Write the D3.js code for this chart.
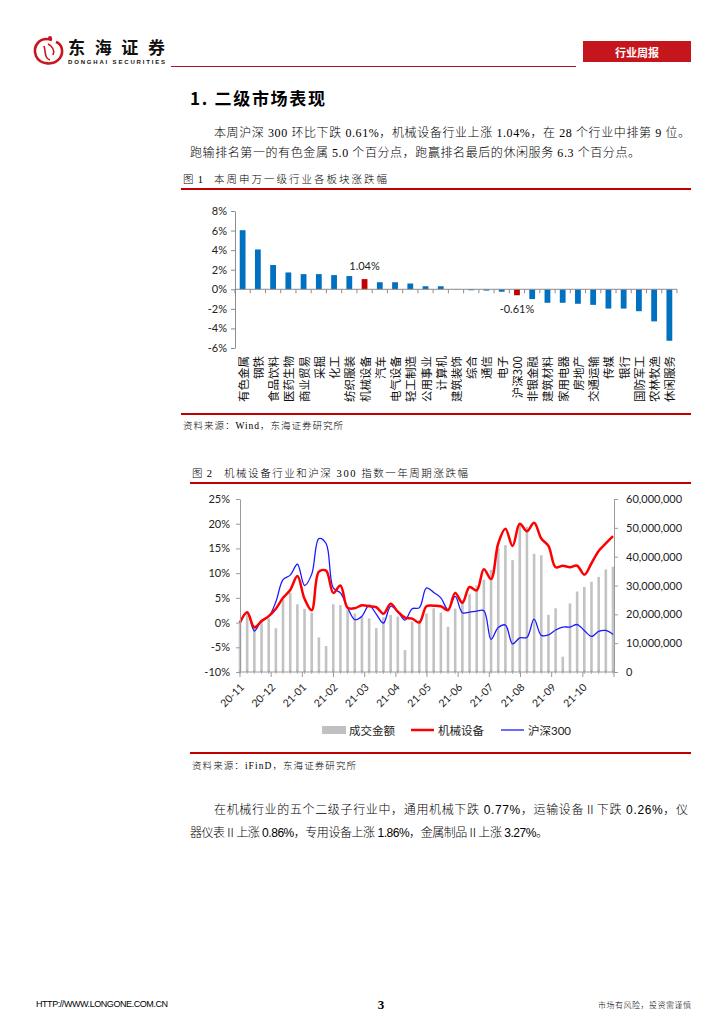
<!DOCTYPE html>
<html><head><meta charset="utf-8">
<script src="https://cdn.jsdelivr.net/npm/d3@7"></script>
<style>
html,body{margin:0;padding:0;background:#fff;}
svg{display:block;}
</style></head><body>
<svg id="page" width="724" height="1024"></svg>
<script>
// ---------- Figure 1 data ----------
const industries = ["有色金属","钢铁","食品饮料","医药生物","商业贸易","采掘","化工","纺织服装","机械设备","汽车","电气设备","轻工制造","公用事业","计算机","建筑装饰","综合","通信","电子","沪深300","非银金融","建筑材料","家用电器","房地产","交通运输","传媒","银行","国防军工","农林牧渔","休闲服务"];
const weeklyChange = [6.04,4.07,2.48,1.72,1.55,1.55,1.45,1.35,1.04,0.72,0.72,0.59,0.31,0.31,-0.03,-0.10,-0.13,-0.25,-0.61,-1.00,-1.38,-1.38,-1.48,-1.59,-1.97,-1.97,-2.24,-3.28,-5.26];
const highlighted = ["机械设备","沪深300"];
const fig1Ticks = [8,6,4,2,0,-2,-4,-6];

// ---------- Figure 2 data ----------
const monthLabels = ["20-11","20-12","21-01","21-02","21-03","21-04","21-05","21-06","21-07","21-08","21-09","21-10"];
const machinery = [0,2.1,-1.0,0.3,1.3,2.8,5.0,6.6,9.4,4.8,2.5,10.3,10.5,6.0,7.5,3.0,2.9,3.5,3.3,3.1,1.8,3.8,2.2,1.0,0.8,0.0,3.3,3.4,3.3,2.5,6.0,4.0,7.2,6.5,10.8,8.8,16.0,19.0,15.5,20.0,18.5,20.2,17.0,15.5,11.2,11.5,11.2,11.5,9.7,12.0,14.5,16.0,17.5];
const hs300 = [0,2.0,-1.7,0.4,1.2,4.2,8.7,9.6,11.8,7.5,9.8,17.0,16.0,7.0,6.0,3.0,0.6,1.3,3.5,1.7,-0.1,3.3,2.2,0.5,2.8,3.0,7.0,6.1,5.0,2.6,5.3,2.0,2.1,2.3,2.4,-3.4,-1.0,-0.5,-4.3,-3.1,-3.0,0.7,-2.6,-2.5,-1.5,-0.9,-0.9,-0.4,-1.6,-2.8,-1.8,-1.6,-2.4];
const turnover = [17100000,20100000,16300000,18000000,18600000,15200000,25200000,27500000,23500000,21900000,20600000,12000000,9000000,23500000,23200000,21700000,20300000,19200000,18600000,15200000,19000000,19800000,19200000,7600000,17500000,18000000,20300000,22100000,20600000,15700000,22000000,25000000,27000000,30000000,32000000,35400000,42900000,44000000,38800000,51200000,50400000,41000000,40500000,19800000,22100000,5300000,23800000,27900000,29500000,31300000,33000000,35600000,36500000];
const leftTicks = [-10,-5,0,5,10,15,20,25];
const rightTicks = [0,10000000,20000000,30000000,40000000,50000000,60000000];
const legendItems = [{name:"成交金额",type:"bar",color:"#c0c0c0"},{name:"机械设备",type:"line",color:"#ff0000",w:2.5},{name:"沪深300",type:"line",color:"#1a1aff",w:1.3}];

const svg = d3.select("#page");
const CJK = "'Noto Sans CJK SC','Noto Sans',sans-serif";
const SERIFMIX = "'Liberation Serif','Noto Sans CJK SC',serif";
const CHARTF = "Lato,'Liberation Sans','Noto Sans CJK SC',sans-serif";
const RED = "#c00000";

function txt(x,y,s,opt={}){
  const t = svg.append("text").attr("x",x).attr("y",y).text(s)
    .attr("font-family",opt.ff||CJK).attr("font-size",opt.fs||12)
    .attr("fill",opt.fill||"#000");
  if(opt.fw) t.attr("font-weight",opt.fw);
  if(opt.anchor) t.attr("text-anchor",opt.anchor);
  if(opt.len){ t.attr("textLength",opt.len).attr("lengthAdjust",opt.adj||"spacing"); }
  t.attr("dominant-baseline","central");
  return t;
}

// ---------- Header ----------
const logo = svg.append("g");
logo.append("path").attr("d","M52,40 C40,36 32,46 36,56 C40,65 54,66 60,58 C64,52 62,44 56,42")
  .attr("fill","none").attr("stroke","#c8161d").attr("stroke-width",2.6);
logo.append("path").attr("d","M44,46 C46,52 44,58 50,60 M48,44 C52,46 55,50 53,55")
  .attr("fill","none").attr("stroke","#c8161d").attr("stroke-width",1.6);
logo.append("circle").attr("cx",50).attr("cy",38).attr("r",2).attr("fill","#c8161d");
txt(68,46.5,"东海证券",{fs:17,fw:700,len:97,fill:"#111"});
txt(68,61.5,"DONGHAI SECURITIES",{fs:6,fw:700,ff:"'Liberation Sans',sans-serif",len:97,fill:"#111"});
svg.append("line").attr("x1",171).attr("x2",576).attr("y1",66.5).attr("y2",66.5).attr("stroke","#b01020").attr("stroke-width",1.2);
svg.append("rect").attr("x",583).attr("y",41).attr("width",108).attr("height",21).attr("fill","#c4161c");
txt(637,51.5,"行业周报",{fs:11,fw:700,fill:"#fff",anchor:"middle"});

// ---------- Title & paragraph ----------
txt(190,97,"1. 二级市场表现",{fs:17,fw:700,len:135});
txt(214,133,"本周沪深 300 环比下跌 0.61%，机械设备行业上涨 1.04%，在 28 个行业中排第 9 位。",{fs:12,ff:SERIFMIX,len:476}).attr("font-weight",300);
txt(190,153,"跑输排名第一的有色金属 5.0 个百分点，跑赢排名最后的休闲服务 6.3 个百分点。",{fs:12,ff:SERIFMIX,len:450}).attr("font-weight",300);

// ---------- Figure 1 ----------
txt(183,179,"图 1",{fs:10.5,ff:SERIFMIX,len:20}).attr("font-weight",300);
txt(214,179,"本周申万一级行业各板块涨跌幅",{fs:10.5,ff:SERIFMIX,len:173}).attr("font-weight",300);
svg.append("line").attr("x1",181).attr("x2",691).attr("y1",189).attr("y2",189).attr("stroke",RED).attr("stroke-width",2);

const x1 = d3.scaleBand().domain(industries).range([235,677]).paddingInner(0.62).paddingOuter(0.31);
const y1 = d3.scaleLinear().domain([-6,8]).range([348,211]);
const g1 = svg.append("g");
g1.selectAll("rect.bar").data(industries).join("rect")
  .attr("x",d=>x1(d)).attr("width",x1.bandwidth())
  .attr("y",(d,i)=>y1(Math.max(0,weeklyChange[i])))
  .attr("height",(d,i)=>Math.abs(y1(weeklyChange[i])-y1(0)))
  .attr("fill",d=>highlighted.includes(d)?"#c00000":"#0070c0");
const ax1 = g1.append("g").attr("transform","translate(235,0)")
  .call(d3.axisLeft(y1).tickValues(fig1Ticks).tickSize(4).tickSizeOuter(0).tickFormat(d=>d+"%"));
ax1.select(".domain").attr("stroke","#8c8c8c");
ax1.selectAll(".tick line").attr("stroke","#8c8c8c");
ax1.selectAll(".tick text").attr("font-family",CHARTF).attr("font-size",11).attr("fill","#222").attr("x",-8);
g1.append("line").attr("x1",235).attr("x2",677).attr("y1",y1(0)).attr("y2",y1(0)).attr("stroke","#8c8c8c");
const step1 = x1.step();
g1.selectAll("line.bt").data(d3.range(industries.length+1)).join("line")
  .attr("x1",k=>235+k*step1).attr("x2",k=>235+k*step1)
  .attr("y1",y1(0)).attr("y2",y1(0)+4).attr("stroke","#8c8c8c");
g1.selectAll("text.cat").data(industries).join("text")
  .attr("transform",d=>`translate(${x1(d)+x1.bandwidth()/2},356) rotate(-90)`)
  .attr("text-anchor","end").attr("dominant-baseline","central")
  .attr("font-family",CJK).attr("font-size",11.5).attr("fill","#111").text(d=>d);
["机械设备","沪深300"].forEach(name=>{
  const i = industries.indexOf(name), v = weeklyChange[i];
  const cx = x1(name)+x1.bandwidth()/2;
  txt(cx, v>=0 ? y1(v)-14 : y1(v)+13, v.toFixed(2)+"%",{fs:11,ff:CHARTF,anchor:"middle",fill:"#222"});
});
svg.append("line").attr("x1",181).attr("x2",691).attr("y1",414).attr("y2",414).attr("stroke",RED).attr("stroke-width",2);
txt(183,426,"资料来源：Wind，东海证券研究所",{fs:9.5,ff:SERIFMIX,len:160}).attr("font-weight",300);

// ---------- Figure 2 ----------
txt(192,473,"图 2",{fs:10.5,ff:SERIFMIX,len:20}).attr("font-weight",300);
txt(224,473,"机械设备行业和沪深 300 指数一年周期涨跌幅",{fs:10.5,ff:SERIFMIX,len:244}).attr("font-weight",300);
svg.append("line").attr("x1",190).attr("x2",691).attr("y1",483).attr("y2",483).attr("stroke",RED).attr("stroke-width",2);

const n = machinery.length;
const x2 = d3.scaleLinear().domain([0,n-1]).range([240,613]);
const y2L = d3.scaleLinear().domain([-10,25]).range([672,499]);
const y2R = d3.scaleLinear().domain([0,60000000]).range([672,499]);
const g2 = svg.append("g");
g2.selectAll("rect.tb").data(turnover).join("rect")
  .attr("x",(d,i)=>x2(i)-1.3).attr("width",2.6)
  .attr("y",d=>y2R(d)).attr("height",d=>y2R(0)-y2R(d)).attr("fill","#c3c3c3");
const line = (arr)=>d3.line().x((d,i)=>x2(i)).y(d=>y2L(d)).curve(d3.curveCatmullRom.alpha(0.5))(arr);
g2.append("path").attr("d",line(hs300)).attr("fill","none").attr("stroke","#1a1aff").attr("stroke-width",1.3);
g2.append("path").attr("d",line(machinery)).attr("fill","none").attr("stroke","#ff0000").attr("stroke-width",2.5);
const axL = g2.append("g").attr("transform","translate(240,0)")
  .call(d3.axisLeft(y2L).tickValues(leftTicks).tickSize(4).tickSizeOuter(0).tickFormat(d=>d+"%"));
const axR = g2.append("g").attr("transform","translate(614,0)")
  .call(d3.axisRight(y2R).tickValues(rightTicks).tickSize(4).tickSizeOuter(0).tickFormat(d3.format(",")));
[axL,axR].forEach(a=>{
  a.select(".domain").attr("stroke","#9a9a9a");
  a.selectAll(".tick line").attr("stroke","#9a9a9a");
  a.selectAll(".tick text").attr("font-family",CHARTF).attr("font-size",11).attr("fill","#222");
});
axL.selectAll(".tick text").attr("x",-10);
axR.selectAll(".tick text").attr("x",12);
g2.append("line").attr("x1",240).attr("x2",614).attr("y1",672).attr("y2",672).attr("stroke","#9a9a9a");
g2.selectAll("line.wk").data(d3.range(n)).join("line")
  .attr("x1",i=>x2(i)).attr("x2",i=>x2(i)).attr("y1",670).attr("y2",674).attr("stroke","#9a9a9a").attr("stroke-width",0.7);
const monthPos = d3.range(monthLabels.length+1).map(k=>240+k*(614-240)/monthLabels.length);
g2.selectAll("line.mt").data(monthPos).join("line")
  .attr("x1",d=>d).attr("x2",d=>d).attr("y1",672).attr("y2",677).attr("stroke","#9a9a9a");
g2.selectAll("text.ml").data(monthLabels).join("text")
  .attr("transform",(d,k)=>`translate(${monthPos[k]+2},685) rotate(-45)`)
  .attr("text-anchor","end").attr("dominant-baseline","central")
  .attr("font-family",CHARTF).attr("font-size",10.5).attr("fill","#222").text(d=>d);
const lgX = [322,411,501];
legendItems.forEach((it,k)=>{
  if(it.type==="bar") svg.append("rect").attr("x",lgX[k]).attr("y",726).attr("width",24).attr("height",8).attr("fill",it.color);
  else svg.append("line").attr("x1",lgX[k]).attr("x2",lgX[k]+23).attr("y1",730).attr("y2",730).attr("stroke",it.color).attr("stroke-width",it.w);
  txt(lgX[k]+27,730,it.name,{fs:11.5,ff:CHARTF,fill:"#222"});
});
svg.append("line").attr("x1",190).attr("x2",691).attr("y1",753).attr("y2",753).attr("stroke",RED).attr("stroke-width",2);
txt(192,766,"资料来源：iFinD，东海证券研究所",{fs:9.5,ff:SERIFMIX,len:164}).attr("font-weight",300);

// ---------- Paragraph 3 ----------
const PF = "'Liberation Sans','Noto Sans CJK SC',sans-serif";
txt(214,810,"在机械行业的五个二级子行业中，通用机械下跌 0.77%，运输设备Ⅱ下跌 0.26%，仪",{fs:12,ff:PF,len:474}).attr("font-weight",300);
txt(190,833,"器仪表Ⅱ上涨 0.86%，专用设备上涨 1.86%，金属制品Ⅱ上涨 3.27%。",{fs:12,ff:PF,len:358}).attr("font-weight",300);

// ---------- Footer ----------
txt(36,1004,"HTTP://WWW.LONGONE.COM.CN",{fs:9,ff:"'Liberation Sans',sans-serif",len:132});
txt(381,1004,"3",{fs:13,fw:700,ff:"'Liberation Serif',serif",anchor:"middle"});
txt(598,1004,"市场有风险，投资需谨慎",{fs:8,ff:CJK,len:93}).attr("font-weight",300);
</script>
</body></html>
